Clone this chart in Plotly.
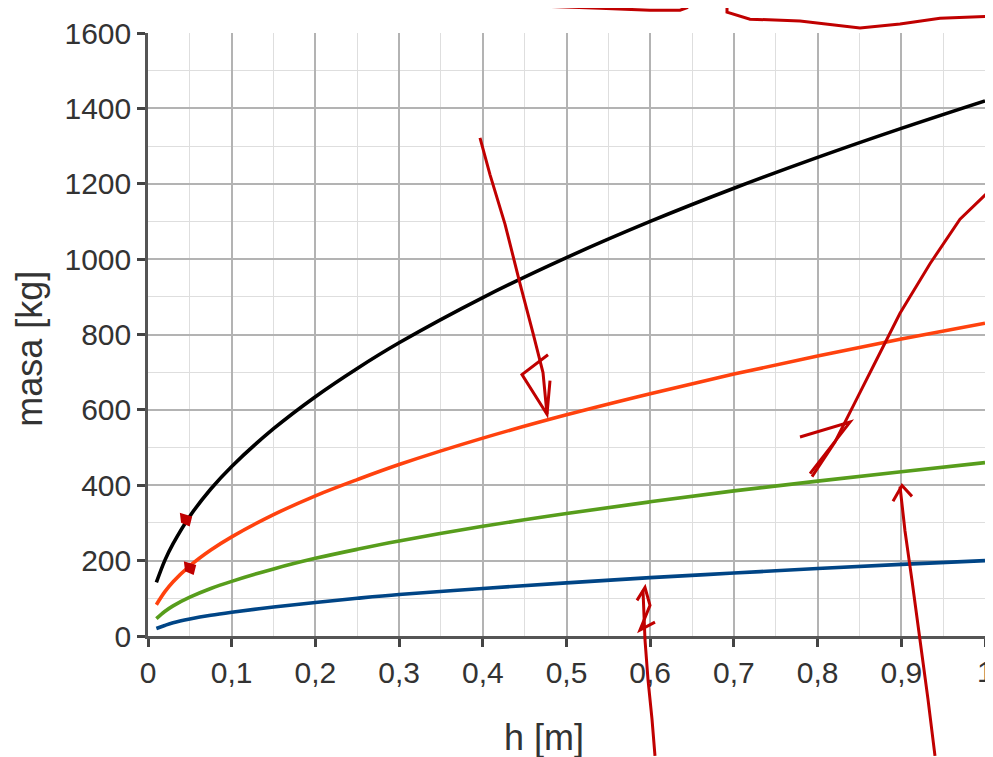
import plotly.graph_objects as go

# ---- data ----
h_m = [0.01, 0.02, 0.03, 0.05, 0.075, 0.1, 0.15, 0.2, 0.25, 0.3, 0.4, 0.5, 0.6, 0.7, 0.8, 0.9, 1.0]
mass_black = [142, 200, 245, 318, 390, 450, 550, 635, 710, 778, 898, 1004, 1100, 1188, 1270, 1347, 1420]
mass_orange = [83, 117, 144, 186, 228, 263, 322, 372, 415, 455, 525, 587, 643, 695, 743, 788, 830]
mass_green = [46, 65, 80, 103, 126, 145, 178, 206, 230, 252, 291, 325, 356, 385, 411, 436, 460]
mass_blue = [20, 28, 35, 45, 55, 63, 77, 89, 100, 110, 126, 141, 155, 167, 179, 190, 200]

series = [
    ("blue", mass_blue, "#004586"),
    ("green", mass_green, "#579d1c"),
    ("orange", mass_orange, "#ff420e"),
    ("black", mass_black, "#000000"),
]

OFF = 8  # page body margin
W, H = 993 - OFF, 757 - OFF
L, R, T, B = 148, 985, 27, 636  # plot area in page pixels

fig = go.Figure()
for name, ys, col in series:
    fig.add_trace(go.Scatter(x=h_m, y=ys, mode="lines", name=name,
                             line=dict(color=col, width=3.6, shape="spline"),
                             showlegend=False))

tfont = dict(family="Liberation Sans, Arial, sans-serif", size=30, color="#333333")
afont = dict(family="Liberation Sans, Arial, sans-serif", size=36, color="#333333")

fig.update_layout(
    width=W, height=H,
    margin=dict(l=L - OFF, r=(W + OFF) - R, t=T - OFF, b=(H + OFF) - B, pad=0),
    paper_bgcolor="white", plot_bgcolor="white",
    separators=",.",
    font=tfont,
    xaxis=dict(range=[0, 1], dtick=0.1, tick0=0, showgrid=True, gridcolor="#b3b3b3", gridwidth=1.5,
               minor=dict(dtick=0.05, showgrid=True, gridcolor="#dedede", gridwidth=1),
               showline=True, linecolor="#555555", linewidth=2.5,
               ticks="outside", ticklen=8, tickwidth=2.5, tickcolor="#444444",
               zeroline=False, tickfont=tfont),
    yaxis=dict(range=[0, 1600], dtick=200, tick0=0, showgrid=True, gridcolor="#b3b3b3", gridwidth=1.5,
               minor=dict(dtick=100, showgrid=True, gridcolor="#dedede", gridwidth=1),
               showline=True, linecolor="#555555", linewidth=2.5,
               ticks="outside", ticklen=8, tickwidth=2.5, tickcolor="#444444",
               zeroline=False, tickfont=tfont),
)

def px(x, y):
    return (x - L) / (R - L), (B - y) / (B - T)

def path(points, close=False):
    s = ""
    for i, (x, y) in enumerate(points):
        a, b = px(x, y)
        s += ("M" if i == 0 else "L") + f"{a:.5f},{b:.5f} "
    if close:
        s += "Z"
    return s

red = "#c00000"
strokes = [
    [(545, 0), (600, 2), (650, 4), (680, 4), (688, 1)],
    [(727, 0), (727, 6), (750, 13), (800, 15), (860, 22), (900, 18), (940, 12), (993, 10)],
    [(480, 133), (490, 170), (505, 220), (520, 280), (533, 330), (543, 370), (547, 412)],
    [(548, 352), (522, 372), (547, 412), (550, 378)],
    [(993, 183), (960, 215), (930, 260), (900, 310), (875, 360), (855, 400), (835, 440), (812, 475)],
    [(800, 435), (850, 420), (810, 472)],
    [(655, 757), (652, 720), (648, 680), (645, 640), (643, 590)],
    [(637, 600), (645, 587), (650, 605), (640, 630), (655, 622)],
    [(935, 757), (928, 700), (920, 640), (912, 580), (905, 530), (900, 485)],
    [(893, 500), (902, 484), (912, 495)],
]
shapes = []
for s in strokes:
    shapes.append(dict(type="path", xref="paper", yref="paper", path=path(s),
                       line=dict(color=red, width=3)))
for (cx, cy) in [(186, 518), (190, 567)]:
    shapes.append(dict(type="path", xref="paper", yref="paper",
                       path=path([(cx - 5, cy - 5), (cx + 5, cy - 2), (cx + 3, cy + 6), (cx - 4, cy + 3)], close=True),
                       fillcolor=red, line=dict(color=red, width=2)))
fig.update_layout(shapes=shapes)

# last x tick label ("1") sits on the right edge; plotly hides it, so place it explicitly
_, ly = px(0, 672)
fig.add_annotation(xref="x", yref="paper", x=1, y=ly, text="1", showarrow=False,
                   font=tfont, xanchor="center", yanchor="middle")

ax, ay = px(544, 739)
fig.add_annotation(xref="paper", yref="paper", x=ax, y=ay, text="h [m]", showarrow=False,
                   font=afont, xanchor="center", yanchor="middle")
ax, ay = px(30, 346)
fig.add_annotation(xref="paper", yref="paper", x=ax, y=ay, text="masa [kg]", showarrow=False,
                   font=afont, textangle=-90, xanchor="center", yanchor="middle")

fig.write_html("out.html")
